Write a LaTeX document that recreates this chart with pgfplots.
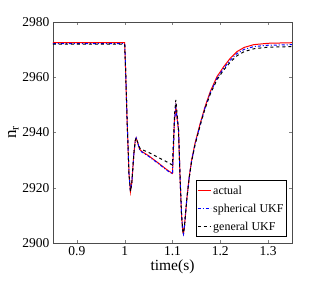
\documentclass[border=0pt]{standalone}
\usepackage{pgfplots}
\pgfplotsset{compat=1.18}
\usepackage{fontspec}
\setmainfont{Liberation Serif}
\begin{document}
\begin{tikzpicture}
\begin{axis}[
  scale only axis, width=239pt, height=221pt,
  xmin=0.85, xmax=1.35, ymin=2900, ymax=2980,
  xtick={0.9,1,1.1,1.2,1.3}, ytick={2900,2920,2940,2960,2980},
  xticklabels={0.9,1,1.1,1.2,1.3},
  tick align=inside, tick pos=both, major tick length=3pt,
  /pgf/number format/assume math mode=true,
  /pgf/number format/1000 sep={},
  tick label style={font=\fontsize{13.5}{13.5}\selectfont},
  xlabel={time(s)}, ylabel={n$_\mathrm{r}$},
  xlabel style={font=\fontsize{15.5}{15.5}\selectfont, yshift=3pt},
  ylabel style={font=\fontsize{17}{17}\selectfont, yshift=-3pt},
  axis line style={black!70, line width=0.6pt},
  legend style={at={(0.978,0.028)}, anchor=south east, font=\fontsize{12}{13}\selectfont, inner sep=1pt, cells={anchor=west, minimum height=18pt}},
  legend image code/.code={\draw[#1] (0pt,0pt) -- (13pt,0pt);},
]
\addplot[red, line width=1pt] coordinates {
(0.85,2972.5) (1.0,2972.5) (1.002,2962) (1.005,2944.5) (1.009,2925) (1.012,2918.6) (1.015,2922) (1.019,2932) (1.022,2937) (1.024,2938) (1.027,2936.5) (1.031,2934) (1.036,2933.1) (1.05,2931.6) (1.07,2929) (1.09,2926.3) (1.1,2925.2) (1.1015,2932) (1.104,2944) (1.107,2949.3) (1.109,2946) (1.1126,2940.9) (1.116,2922.8) (1.119,2910) (1.1216,2904) (1.123,2903.3) (1.125,2906) (1.130,2916) (1.135,2924) (1.140,2930) (1.147,2936) (1.158,2943.3) (1.168,2949.3) (1.179,2954.8) (1.193,2960.2) (1.207,2963.8) (1.221,2966.9) (1.235,2969.3) (1.25,2970.8) (1.27,2971.8) (1.3,2972.3) (1.35,2972.5)
};
\addlegendentry{actual}
\addplot[blue, line width=1pt, dash dot] coordinates {
(0.85,2972.2) (1.0,2972.2) (1.002,2962) (1.005,2944.5) (1.009,2925) (1.012,2918.6) (1.015,2922) (1.019,2932) (1.022,2937) (1.024,2938) (1.027,2936.5) (1.031,2934) (1.036,2932.9) (1.05,2931.4) (1.07,2928.8) (1.09,2926.1) (1.1,2925.0) (1.1015,2932) (1.104,2944) (1.107,2949.2) (1.109,2946) (1.1126,2940.9) (1.116,2922.8) (1.119,2910) (1.1216,2904) (1.123,2903.2) (1.125,2906) (1.130,2916) (1.135,2923.8) (1.140,2929.7) (1.147,2935.7) (1.158,2942.9) (1.168,2948.9) (1.179,2954.3) (1.193,2959.6) (1.207,2963.2) (1.221,2966.2) (1.235,2968.6) (1.25,2970.1) (1.27,2971.1) (1.3,2971.6) (1.35,2971.8)
};
\addlegendentry{spherical UKF}
\addplot[black, line width=1pt, dashed] coordinates {
(0.85,2972.0) (1.0,2972.0) (1.002,2962) (1.005,2944.5) (1.009,2925) (1.012,2918.6) (1.015,2922) (1.019,2932) (1.022,2937) (1.024,2938) (1.027,2936.6) (1.031,2934.5) (1.036,2933.8) (1.05,2932.8) (1.07,2931) (1.09,2929.2) (1.1,2928.2) (1.1015,2935) (1.104,2946) (1.107,2951.8) (1.109,2948) (1.1126,2941) (1.116,2922.8) (1.119,2910) (1.1216,2904.3) (1.123,2903.6) (1.125,2906) (1.130,2916) (1.135,2923.6) (1.140,2929.5) (1.147,2935.4) (1.158,2942.6) (1.168,2948.6) (1.179,2953.9) (1.193,2959.1) (1.207,2962.6) (1.221,2965.5) (1.235,2967.8) (1.25,2969.3) (1.27,2970.3) (1.3,2970.9) (1.35,2971.1)
};
\addlegendentry{general UKF}
\end{axis}
\pgfresetboundingbox
\path[use as bounding box] ([shift={(-53pt,-50pt)}]current axis.south west) rectangle ([shift={(30pt,22pt)}]current axis.north east);
\end{tikzpicture}
\end{document}
